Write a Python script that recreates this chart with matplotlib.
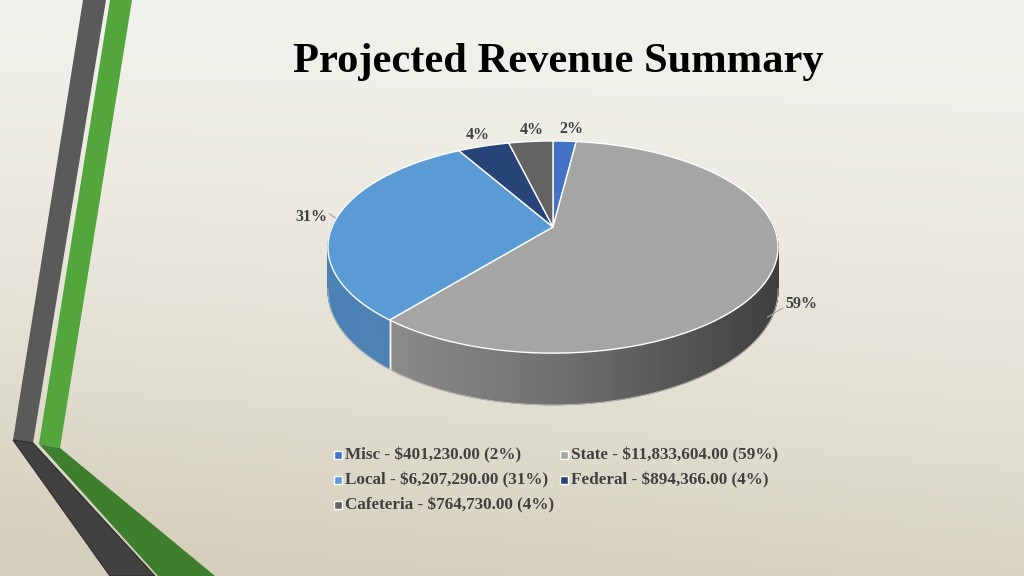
import numpy as np
import matplotlib
matplotlib.use("Agg")
import matplotlib.pyplot as plt
from matplotlib.patches import Polygon

# data
names = ["Misc", "State", "Local", "Federal", "Cafeteria"]
values = [401230.00, 11833604.00, 6207290.00, 894366.00, 764730.00]
colors = ["#4472C4", "#A5A5A5", "#5B9BD5", "#264478", "#636363"]
title = "Projected Revenue Summary"

total = sum(values)
pcts = [int(round(v / total * 100)) for v in values]

SERIF = ["Liberation Serif", "DejaVu Serif"]

# pie geometry (pixels)
CX, CY = 553, 227
SX, SY = 221, 102.3
K = 0.189
H = 42


def proj(a_deg, r=1.0, z=0.0):
    a = np.radians(a_deg)
    x = r * np.sin(a)
    d = -r * np.cos(a)
    w = 1 - K * d
    return CX + SX * x / w, CY + (SY * d + z) / w


def shade(col, f):
    c = np.array(matplotlib.colors.to_rgb(col))
    return tuple(np.clip(c * f, 0, 1))


fig = plt.figure(figsize=(10.24, 5.76), dpi=100)
ax = fig.add_axes([0, 0, 1, 1])
ax.set_xlim(0, 1024)
ax.set_ylim(576, 0)
ax.axis("off")

# background gradient
yy, xx = np.mgrid[0:576, 0:1024]
t = 0.85 * (yy / 576.0) ** 1.6 + 0.25 * (1 - xx / 1024.0) * (yy / 576.0)
t = np.clip(t, 0, 1)
light = np.array([0.948, 0.945, 0.922])
dark = np.array([0.835, 0.812, 0.735])
bg = light[None, None, :] * (1 - t[..., None]) + dark[None, None, :] * t[..., None]
ax.imshow(bg, extent=(0, 1024, 576, 0), zorder=0, aspect="auto")

# decorative stripes
ax.add_patch(Polygon([(83, 0), (106, 0), (33, 443), (13, 440)], closed=True,
                     facecolor="#5a5a5a", edgecolor="none", zorder=1))
ax.add_patch(Polygon([(13, 440), (33, 443), (155, 576), (110, 576)], closed=True,
                     facecolor="#414141", edgecolor="#2a2a2a", lw=0.8, zorder=1))
ax.add_patch(Polygon([(110, 0), (132, 0), (60, 448), (39, 444)], closed=True,
                     facecolor="#52a63b", edgecolor="none", zorder=1))
ax.add_patch(Polygon([(39, 444), (60, 448), (215, 576), (158, 576)], closed=True,
                     facecolor="#3e7e2d", edgecolor="none", zorder=1))

# slice angles (clockwise from 12 o'clock)
bounds = np.concatenate([[0], np.cumsum(values) / total * 360])

# side walls
wall_u = [-1.0, -0.73, 0.0, 1.0]
wall_f = [0.84, 0.84, 0.68, 0.38]
for i in range(len(values)):
    a0, a1 = max(bounds[i], 85), min(bounds[i + 1], 275)
    if a1 <= a0:
        continue
    angs = np.linspace(a0, a1, int((a1 - a0) / 0.5) + 2)
    for j in range(len(angs) - 1):
        ua, va = proj(angs[j])
        ub, vb = proj(angs[j + 1])
        uc, vc = proj(angs[j + 1], z=H)
        ud, vd = proj(angs[j], z=H)
        un = ((ua + ub) / 2 - CX) / (SX * 1.02)
        f = np.interp(un, wall_u, wall_f)
        c = shade(colors[i], f)
        ax.add_patch(Polygon([(ua, va), (ub, vb), (uc, vc), (ud, vd)], closed=True,
                             facecolor=c, edgecolor=c, lw=0.6, zorder=2))
    # separators on the wall
    for a in (bounds[i], bounds[i + 1]):
        if 95 < a < 265:
            u0, v0 = proj(a)
            u1, v1 = proj(a, z=H)
            ax.plot([u0, u1], [v0, v1], color="white", lw=1, zorder=3)

# wall bottom outline
ab = np.linspace(100, 260, 200)
ub, vb = proj(ab, z=H)
ax.plot(ub, vb, color="#bdbdbd", lw=0.6, zorder=3)

# top faces
for i in range(len(values)):
    angs = np.linspace(bounds[i], bounds[i + 1], 80)
    u, v = proj(angs)
    pts = [(CX, CY)] + list(zip(u, v))
    ax.add_patch(Polygon(pts, closed=True, facecolor=colors[i], edgecolor="white",
                         lw=1.0, joinstyle="round", zorder=4))

# percentage labels
for i in range(len(values)):
    mid = (bounds[i] + bounds[i + 1]) / 2
    u, v = proj(mid)
    dx = u - CX
    dy = v - CY
    n = np.hypot(dx / SX, dy / SY)
    ox, oy = dx / SX / n, dy / SY / n
    txt = f"{pcts[i]}%"
    kw = dict(fontsize=11.5, fontweight="bold", family=SERIF, color="#404040", zorder=6)
    if -np.cos(np.radians(mid)) > 0.2:
        # front slice: label beside the wall with a leader line
        _, vw = proj(mid, z=H * 0.72)
        lu = u - 5
        ax.plot([lu, lu + 15], [vw + 14, vw + 5], color="#a0a0a0", lw=0.8, zorder=6)
        ax.text(lu + 18, vw + 1, txt, ha="left", va="center", **kw)
    elif abs(ox) > 0.9:
        ha = "right" if ox < 0 else "left"
        ax.plot([u - 7, u - 1], [v - 5, v - 1], color="#a0a0a0", lw=0.8, zorder=6)
        ax.text(u - 9, v - 2, txt, ha=ha, va="center", **kw)
    else:
        ax.text(u + ox * 30 + 5, v + oy * 11 - 1, txt, ha="center", va="center", **kw)

# title
ax.text(558, 72, title, ha="center", va="baseline", fontsize=30.6, fontweight="bold",
        family=SERIF, color="black", zorder=6)

# legend (row-major, two columns)
col_x = [337.5, 563.5]
row_y = [455, 480, 505]
for i, (nm, val, p) in enumerate(zip(names, values, pcts)):
    r, c = divmod(i, 2)
    x, y = col_x[c], row_y[r]
    ax.add_patch(plt.Rectangle((x - 4, y - 4), 8, 8, facecolor=colors[i],
                               edgecolor="white", lw=1, zorder=6))
    ax.text(x + 7.5, y, f"{nm} - ${val:,.2f} ({p}%)", ha="left", va="center",
            fontsize=12.3, fontweight="bold", family=SERIF, color="#404040", zorder=6)

fig.savefig("out.png", dpi=100)
